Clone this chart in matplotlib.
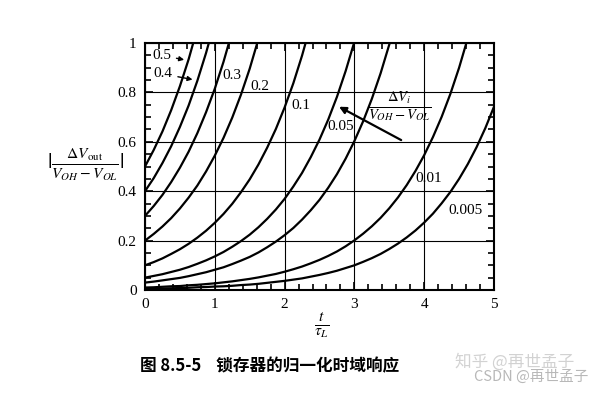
import matplotlib
matplotlib.use("Agg")
import matplotlib.pyplot as plt
from matplotlib.ticker import MultipleLocator

# ============================================================
# DADOS
# ============================================================

t_grid = [0, 0.125, 0.25, 0.375, 0.5, 0.625, 0.75, 0.875, 1, 1.125,
          1.25, 1.375, 1.5, 1.625, 1.75, 1.875, 2, 2.125, 2.25, 2.375,
          2.5, 2.625, 2.75, 2.875, 3, 3.125, 3.25, 3.375, 3.5, 3.625,
          3.75, 3.875, 4, 4.125, 4.25, 4.375, 4.5, 4.625, 4.75, 4.875, 5]

curve_05 = [0.500, 0.567, 0.642, 0.728, 0.825, 0.934, 1.059]
curve_04 = [0.400, 0.453, 0.514, 0.582, 0.660, 0.747, 0.847, 0.960, 1.087]
curve_03 = [0.300, 0.340, 0.385, 0.437, 0.495, 0.560, 0.635, 0.720, 0.815,
            0.924, 1.047]
curve_02 = [0.200, 0.227, 0.257, 0.291, 0.330, 0.374, 0.423, 0.480, 0.544,
            0.616, 0.698, 0.791, 0.896, 1.016]
curve_01 = [0.100, 0.113, 0.128, 0.146, 0.165, 0.187, 0.212, 0.240, 0.272,
            0.308, 0.349, 0.396, 0.448, 0.508, 0.576, 0.652, 0.739, 0.837,
            0.949, 1.075]
curve_005 = [0.050, 0.057, 0.064, 0.073, 0.082, 0.093, 0.106, 0.120, 0.136,
             0.154, 0.175, 0.198, 0.224, 0.254, 0.288, 0.326, 0.369, 0.419,
             0.474, 0.538, 0.609, 0.690, 0.782, 0.887, 1.005]
curve_003 = [0.030, 0.034, 0.039, 0.044, 0.049, 0.056, 0.064, 0.072, 0.082,
             0.092, 0.105, 0.119, 0.134, 0.152, 0.173, 0.196, 0.222, 0.251,
             0.285, 0.323, 0.365, 0.414, 0.469, 0.532, 0.603, 0.683, 0.774,
             0.877, 0.994, 1.126]
curve_001 = [0.010, 0.011, 0.013, 0.015, 0.016, 0.019, 0.021, 0.024, 0.027,
             0.031, 0.035, 0.040, 0.045, 0.051, 0.058, 0.065, 0.074, 0.084,
             0.095, 0.108, 0.122, 0.138, 0.156, 0.177, 0.201, 0.228, 0.258,
             0.292, 0.331, 0.375, 0.425, 0.482, 0.546, 0.619, 0.701, 0.794,
             0.900, 1.020]
curve_0005 = [0.005, 0.006, 0.006, 0.007, 0.008, 0.009, 0.011, 0.012, 0.014,
              0.015, 0.017, 0.020, 0.022, 0.025, 0.029, 0.033, 0.037, 0.042,
              0.047, 0.054, 0.061, 0.069, 0.078, 0.089, 0.100, 0.114, 0.129,
              0.146, 0.166, 0.188, 0.213, 0.241, 0.273, 0.309, 0.351, 0.397,
              0.450, 0.510, 0.578, 0.655, 0.742]

curves = [curve_05, curve_04, curve_03, curve_02, curve_01,
          curve_005, curve_003, curve_001, curve_0005]

x_ticks = [0, 1, 2, 3, 4, 5]
y_ticks = [0, 0.2, 0.4, 0.6, 0.8, 1]
y_tick_labels = ["0", "0.2", "0.4", "0.6", "0.8", "1"]

# ============================================================
# FIGURA
# ============================================================

plt.rcParams["font.family"] = ["Liberation Serif", "DejaVu Serif"]
plt.rcParams["mathtext.fontset"] = "stix"

fig = plt.figure(figsize=(6, 3.93), dpi=100)
ax = fig.add_axes([145 / 600, 1 - 290 / 393, 349 / 600, 247 / 393])

for vals in curves:
    ax.plot(t_grid[:len(vals)], vals, color="black", lw=1.6,
            solid_capstyle="round")

ax.set_xlim(0, 5)
ax.set_ylim(0, 1)

ax.set_xticks(x_ticks)
ax.set_yticks(y_ticks)
ax.set_yticklabels(y_tick_labels)
ax.xaxis.set_minor_locator(MultipleLocator(0.2))
ax.yaxis.set_minor_locator(MultipleLocator(0.05))

ax.tick_params(which="both", direction="in", top=True, right=True,
               labelsize=11, width=1.2)
ax.tick_params(which="major", length=6, pad=6)
ax.tick_params(which="minor", length=4)

ax.grid(True, which="major", color="black", lw=0.8)

for s in ax.spines.values():
    s.set_linewidth(1.5)

# ============================================================
# ROTULOS DOS EIXOS
# ============================================================

fig.text(86 / 600, 1 - 165 / 393,
         r"$|\frac{\Delta V_{\rm out}}{V_{OH}-V_{OL}}|$",
         fontsize=16, ha="center", va="center")

fig.text(322 / 600, 1 - 325 / 393, r"$\frac{t}{\tau_L}$",
         fontsize=16, ha="center", va="center")

# ============================================================
# ANOTACOES
# ============================================================

arrow = dict(arrowstyle="-|>", color="black", lw=1.0, mutation_scale=7)

ax.annotate("0.5", xy=(0.6, 0.93), xytext=(0.1, 0.95),
            fontsize=11, va="center", ha="left", arrowprops=arrow)
ax.annotate("0.4", xy=(0.72, 0.85), xytext=(0.12, 0.875),
            fontsize=11, va="center", ha="left", arrowprops=arrow)

ax.text(1.24, 0.868, "0.3", fontsize=11, ha="center", va="center")
ax.text(1.65, 0.825, "0.2", fontsize=11, ha="center", va="center")
ax.text(2.23, 0.745, "0.1", fontsize=11, ha="center", va="center")
ax.text(2.80, 0.66, "0.05", fontsize=11, ha="center", va="center")
ax.text(4.07, 0.453, "0.01", fontsize=11, ha="center", va="center")
ax.text(4.59, 0.32, "0.005", fontsize=11, ha="center", va="center")

ax.text(3.65, 0.745, r"$\frac{\Delta V_i}{V_{OH}-V_{OL}}$",
        fontsize=15, ha="center", va="center")
ax.annotate("", xy=(2.78, 0.742), xytext=(3.67, 0.607),
            arrowprops=dict(arrowstyle="-|>", color="black", lw=1.6,
                            mutation_scale=10, shrinkA=0, shrinkB=0))

# ============================================================
# LEGENDA DA FIGURA E MARCA D'AGUA
# ============================================================

fig.text(140 / 600, 1 - 366 / 393, "图 8.5-5    锁存器的归一化时域响应",
         fontsize=12, fontweight="bold", ha="left", va="center",
         family=["Noto Sans CJK SC", "DejaVu Sans"])

fig.text(455 / 600, 1 - 362 / 393, "知乎 @再世孟子",
         fontsize=12, color="#d2d2d2", ha="left", va="center",
         family=["Noto Sans CJK SC", "DejaVu Sans"])
fig.text(474 / 600, 1 - 377 / 393, "CSDN @再世孟子",
         fontsize=10.5, color="#b8b8b8", ha="left", va="center",
         family=["Noto Sans CJK SC", "DejaVu Sans"])

plt.savefig("out.png", dpi=100)
plt.close()
